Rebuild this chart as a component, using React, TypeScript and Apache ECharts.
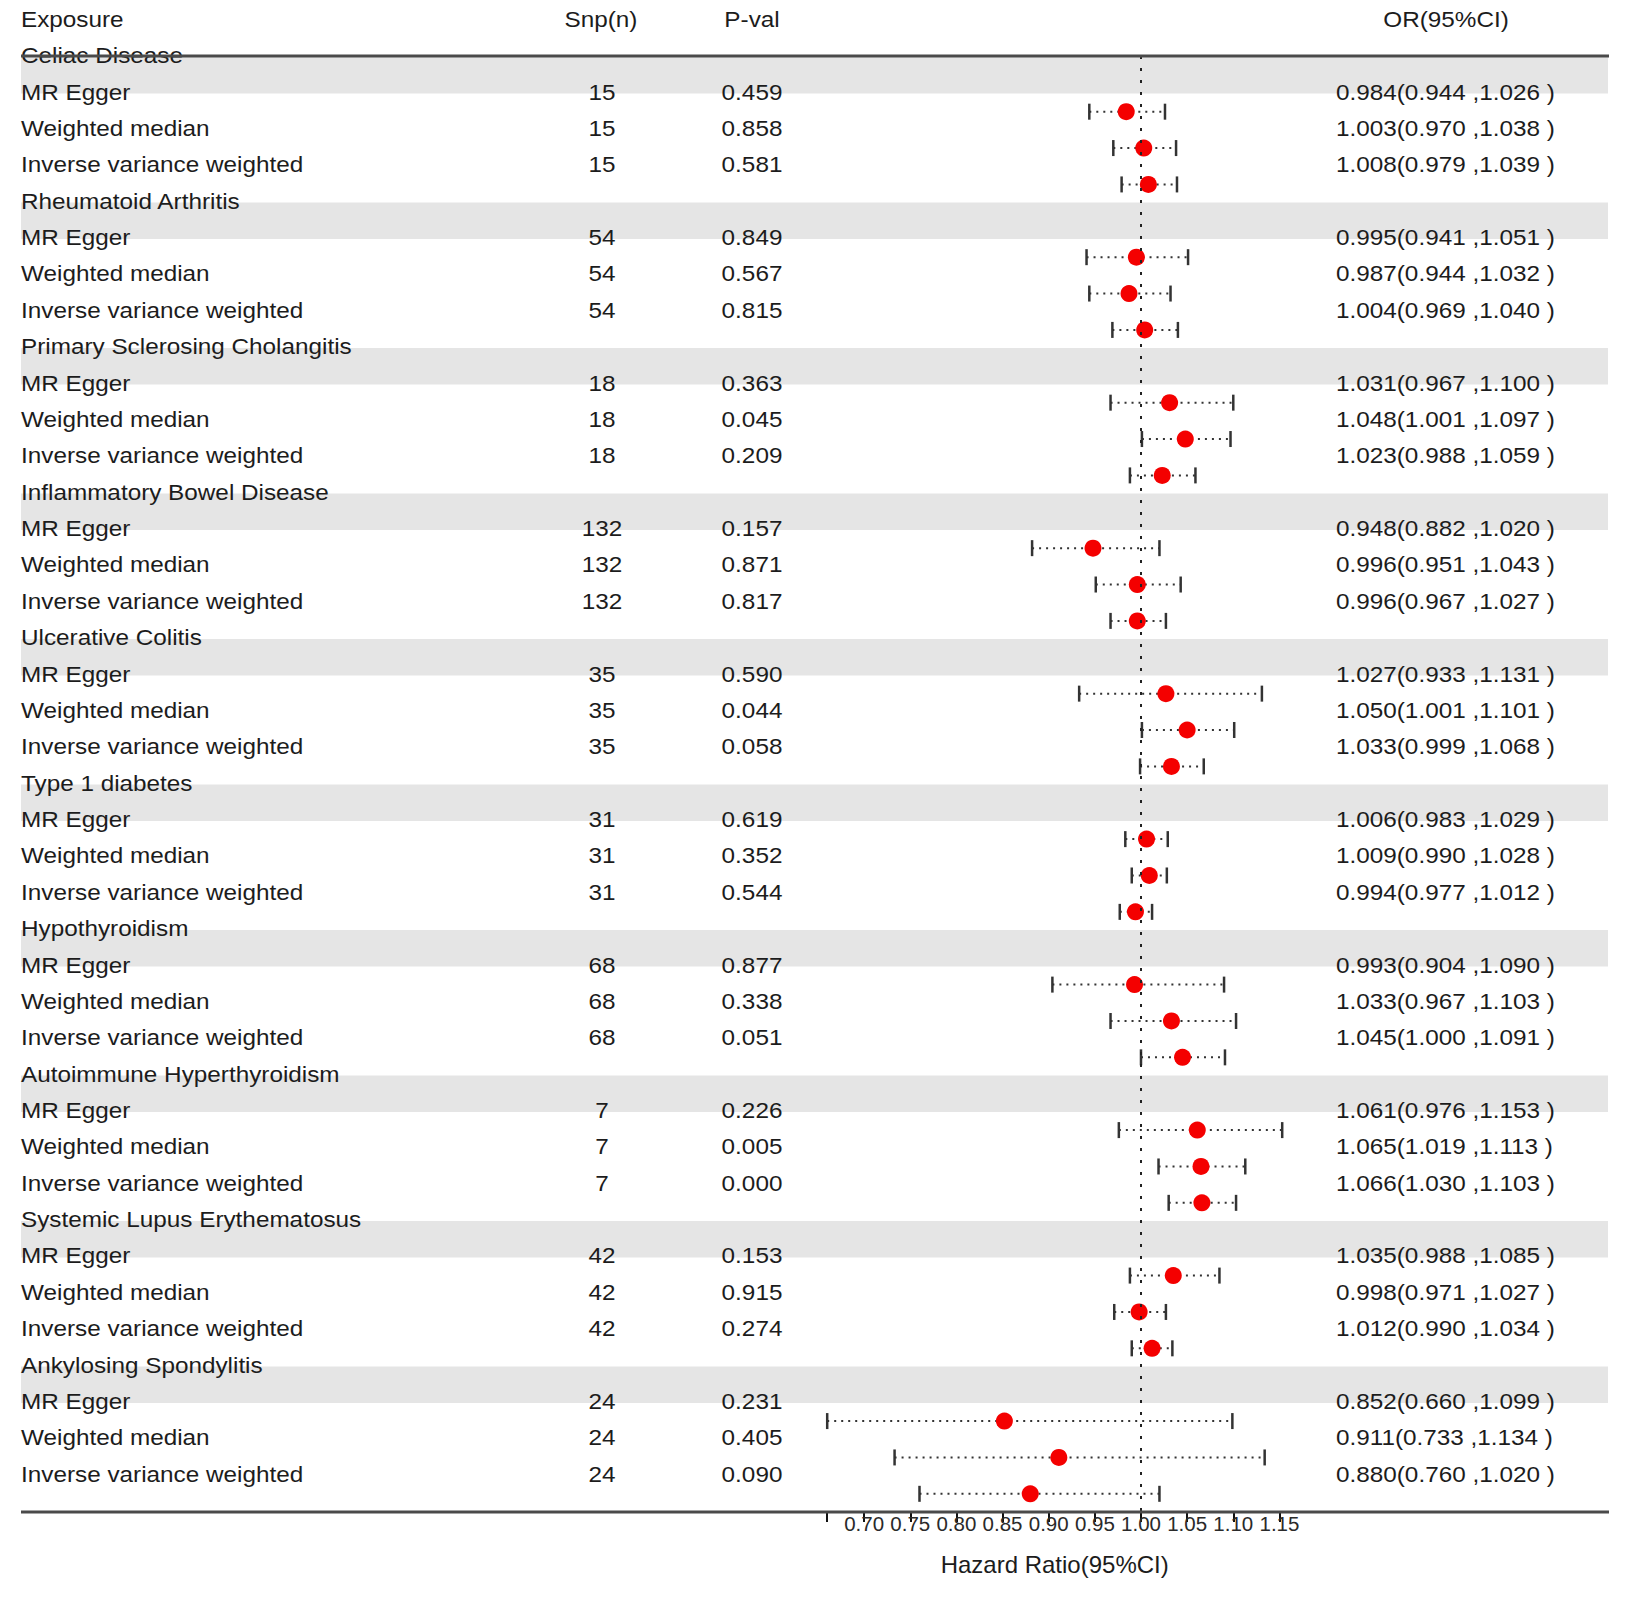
import React, { useEffect, useRef } from "react";
import * as echarts from "echarts";

const groups = [
  "Celiac Disease",
  "Rheumatoid Arthritis",
  "Primary Sclerosing Cholangitis",
  "Inflammatory Bowel Disease",
  "Ulcerative Colitis",
  "Type 1 diabetes",
  "Hypothyroidism",
  "Autoimmune Hyperthyroidism",
  "Systemic Lupus Erythematosus",
  "Ankylosing Spondylitis",
];
const methods = ["MR Egger", "Weighted median", "Inverse variance weighted"];
const snpCounts = [15, 54, 18, 132, 35, 31, 68, 7, 42, 24];
const pValues = [
  0.459, 0.858, 0.581,
  0.849, 0.567, 0.815,
  0.363, 0.045, 0.209,
  0.157, 0.871, 0.817,
  0.59, 0.044, 0.058,
  0.619, 0.352, 0.544,
  0.877, 0.338, 0.051,
  0.226, 0.005, 0.0,
  0.153, 0.915, 0.274,
  0.231, 0.405, 0.09,
];
const orValues = [
  0.984, 1.003, 1.008,
  0.995, 0.987, 1.004,
  1.031, 1.048, 1.023,
  0.948, 0.996, 0.996,
  1.027, 1.05, 1.033,
  1.006, 1.009, 0.994,
  0.993, 1.033, 1.045,
  1.061, 1.065, 1.066,
  1.035, 0.998, 1.012,
  0.852, 0.911, 0.88,
];
const ciLower = [
  0.944, 0.97, 0.979,
  0.941, 0.944, 0.969,
  0.967, 1.001, 0.988,
  0.882, 0.951, 0.967,
  0.933, 1.001, 0.999,
  0.983, 0.99, 0.977,
  0.904, 0.967, 1.0,
  0.976, 1.019, 1.03,
  0.988, 0.971, 0.99,
  0.66, 0.733, 0.76,
];
const ciUpper = [
  1.026, 1.038, 1.039,
  1.051, 1.032, 1.04,
  1.1, 1.097, 1.059,
  1.02, 1.043, 1.027,
  1.131, 1.101, 1.068,
  1.029, 1.028, 1.012,
  1.09, 1.103, 1.091,
  1.153, 1.113, 1.103,
  1.085, 1.027, 1.034,
  1.099, 1.134, 1.02,
];
const headers = ["Exposure", "Snp(n)", "P-val", "OR(95%CI)"];
const xTicks = [0.66, 0.7, 0.75, 0.8, 0.85, 0.9, 0.95, 1.0, 1.05, 1.1, 1.15];
const xTickLabels = [0.7, 0.75, 0.8, 0.85, 0.9, 0.95, 1.0, 1.05, 1.1, 1.15];
const xAxisTitle = "Hazard Ratio(95%CI)";

const FONT = '"Liberation Sans", Arial, Helvetica, sans-serif';
const TEXT_COLOR = "#1c1c1c";

type Cell = { text: string; x: number; align: "left" | "center" };
type Row = { r: number; cells: Cell[] };

function buildRows(): Row[] {
  const rows: Row[] = [];
  rows.push({
    r: -1,
    cells: [
      { text: headers[0], x: 21, align: "left" },
      { text: headers[1], x: 601, align: "center" },
      { text: headers[2], x: 752, align: "center" },
      { text: headers[3], x: 1446, align: "center" },
    ],
  });
  groups.forEach((g, gi) => {
    rows.push({ r: gi * 4, cells: [{ text: g, x: 21, align: "left" }] });
    methods.forEach((m, mi) => {
      const k = gi * 3 + mi;
      const orText = `${orValues[k].toFixed(3)}(${ciLower[k].toFixed(3)} ,${ciUpper[k].toFixed(3)} )`;
      rows.push({
        r: gi * 4 + mi + 1,
        cells: [
          { text: m, x: 21, align: "left" },
          { text: String(snpCounts[gi]), x: 602, align: "center" },
          { text: pValues[k].toFixed(3), x: 752, align: "center" },
          { text: orText, x: 1336, align: "left" },
        ],
      });
    });
  });
  return rows;
}

export default function App() {
  const ref = useRef<HTMLDivElement>(null);
  useEffect(() => {
    if (!ref.current) return;
    const chart = echarts.init(ref.current, null, { renderer: "svg" });
    const rows = buildRows();

    const estimates: number[][] = [];
    const intervals: number[][] = [];
    groups.forEach((_, gi) => {
      methods.forEach((__, mi) => {
        const k = gi * 3 + mi;
        const r = gi * 4 + mi + 1;
        estimates.push([orValues[k], r]);
        intervals.push([ciLower[k], ciUpper[k], r]);
      });
    });
    const bandRows = groups.map((_, gi) => [1, gi * 4]);

    const option: any = {
      animation: false,
      backgroundColor: "#fff",
      grid: [
        { left: 0, width: 1630, top: 1, height: 1509.4 },
        { left: 827.2, width: 455, top: 56, height: 1456 },
      ],
      xAxis: [
        { gridIndex: 0, type: "value", min: 0, max: 1, show: false },
        {
          gridIndex: 1,
          type: "value",
          min: 0.66,
          max: 1.153,
          position: "bottom",
          splitLine: { show: false },
          axisLine: { show: true, onZero: false, lineStyle: { color: "#111", width: 2 } },
          axisTick: {
            show: true,
            length: 10,
            customValues: xTicks,
            lineStyle: { color: "#111", width: 2 },
          },
          axisLabel: {
            show: true,
            customValues: xTickLabels,
            formatter: (v: number) => v.toFixed(2),
            fontSize: 20.5,
            fontFamily: FONT,
            color: "#2a2a2a",
            margin: 1,
          },
          name: xAxisTitle,
          nameLocation: "middle",
          nameGap: 40,
          nameTextStyle: { fontSize: 24, fontFamily: FONT, color: TEXT_COLOR },
        },
      ],
      yAxis: [
        { gridIndex: 0, type: "value", min: -1.5, max: 40, inverse: true, show: false },
        { gridIndex: 1, type: "value", min: -0.531, max: 39.5, inverse: true, show: false },
      ],
      series: [
        {
          type: "custom",
          name: "bands",
          xAxisIndex: 1,
          yAxisIndex: 1,
          z: 0,
          silent: true,
          clip: false,
          data: bandRows,
          encode: { x: 0, y: 1 },
          renderItem: (params: any, api: any) => {
            const r = api.value(1);
            const y0 = api.coord([1, r - 0.5])[1];
            const y1 = api.coord([1, r + 0.5])[1];
            return {
              type: "rect",
              shape: { x: 21, y: y0, width: 1587, height: y1 - y0 },
              style: { fill: "#e5e5e5" },
            };
          },
        },
        {
          type: "custom",
          name: "table",
          xAxisIndex: 0,
          yAxisIndex: 0,
          z: 2,
          silent: true,
          clip: false,
          data: rows.map((row) => [0, row.r]),
          encode: { x: 0, y: 1 },
          renderItem: (params: any, api: any) => {
            const row = rows[params.dataIndex];
            const yc = api.coord([0, row.r])[1];
            return {
              type: "group",
              children: row.cells.map((c) => ({
                type: "text",
                x: c.x,
                y: yc,
                scaleX: 1.08,
                style: {
                  text: c.text,
                  fill: TEXT_COLOR,
                  fontSize: 22.5,
                  fontFamily: FONT,
                  align: c.align,
                  verticalAlign: "middle",
                },
              })),
            };
          },
        },
        {
          type: "custom",
          name: "ci",
          xAxisIndex: 1,
          yAxisIndex: 1,
          z: 3,
          silent: true,
          clip: false,
          data: intervals,
          encode: { x: [0, 1], y: 2 },
          renderItem: (params: any, api: any) => {
            const lo = api.value(0);
            const hi = api.value(1);
            const r = api.value(2);
            const p1 = api.coord([lo, r]);
            const p2 = api.coord([hi, r]);
            const stroke = "#333";
            return {
              type: "group",
              children: [
                {
                  type: "line",
                  shape: { x1: p1[0], y1: p1[1], x2: p2[0], y2: p2[1] },
                  style: { stroke, lineWidth: 2, lineDash: [2, 5] },
                },
                {
                  type: "line",
                  shape: { x1: p1[0], y1: p1[1] - 8, x2: p1[0], y2: p1[1] + 8 },
                  style: { stroke, lineWidth: 2.5 },
                },
                {
                  type: "line",
                  shape: { x1: p2[0], y1: p2[1] - 8, x2: p2[0], y2: p2[1] + 8 },
                  style: { stroke, lineWidth: 2.5 },
                },
              ],
            };
          },
        },
        {
          type: "scatter",
          name: "OR",
          xAxisIndex: 1,
          yAxisIndex: 1,
          z: 4,
          silent: true,
          symbol: "circle",
          symbolSize: 17,
          itemStyle: { color: "#f40000", opacity: 1 },
          data: estimates,
          markLine: {
            silent: true,
            symbol: ["none", "none"],
            label: { show: false },
            lineStyle: { color: "#222", width: 2, type: [3, 9] },
            data: [{ xAxis: 1 }],
          },
        },
      ],
      graphic: [
        {
          type: "line",
          z: 10,
          shape: { x1: 21, y1: 56, x2: 1609, y2: 56 },
          style: { stroke: "#4a4a4a", lineWidth: 3 },
        },
        {
          type: "line",
          z: 10,
          shape: { x1: 21, y1: 1512, x2: 1609, y2: 1512 },
          style: { stroke: "#4a4a4a", lineWidth: 3 },
        },
      ],
    };
    chart.setOption(option);
    return () => chart.dispose();
  }, []);

  return (
    <div
      ref={ref}
      style={{ position: "fixed", left: 0, top: 0, width: 1630, height: 1601, background: "#fff" }}
    />
  );
}
